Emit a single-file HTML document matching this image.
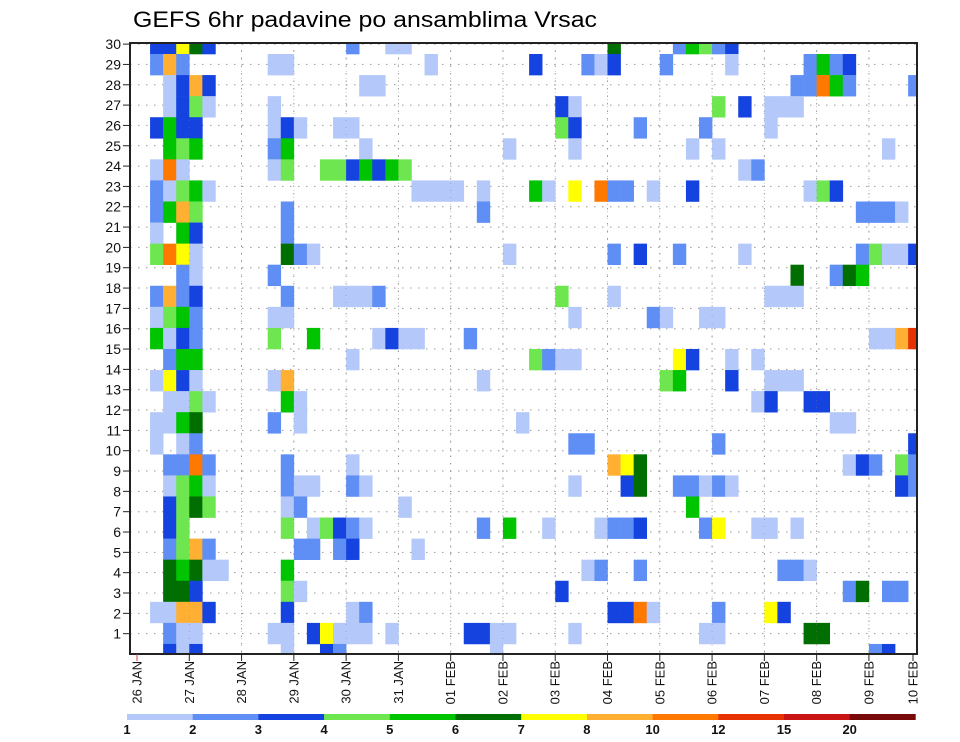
<!DOCTYPE html>
<html><head><meta charset="utf-8">
<style>
html,body{margin:0;padding:0;background:#fff;}
svg{display:block;font-family:"Liberation Sans",sans-serif;}
</style></head>
<body>
<svg id="chart" width="960" height="742" viewBox="0 0 960 742">
  <defs><clipPath id="plotclip"><rect x="130" y="43" width="787" height="611"/></clipPath></defs>
  <text x="133" y="27" font-size="22" textLength="464" lengthAdjust="spacingAndGlyphs" fill="#000">GEFS 6hr padavine po ansamblima Vrsac</text>
  <g id="grid"></g>
  <g id="cells" clip-path="url(#plotclip)"></g>
  <g id="grid2"></g>
  <rect x="130" y="43" width="787" height="611" fill="none" stroke="#222" stroke-width="2"/>
  <g id="yaxis"></g>
  <g id="xaxis"></g>
  <g id="legend"></g>
</svg>
<script>
// ---- data ----
const dayLabels = ["26 JAN","27 JAN","28 JAN","29 JAN","30 JAN","31 JAN","01 FEB","02 FEB","03 FEB","04 FEB","05 FEB","06 FEB","07 FEB","08 FEB","09 FEB","10 FEB"];
const memberTicks = [1,2,3,4,5,6,7,8,9,10,11,12,13,14,15,16,17,18,19,20,21,22,23,24,25,26,27,28,29,30];
const levelBounds = [1,2,3,4,5,6,7,8,10,12,15,20];
const levelColors = ["#b4c8fa","#5f8ef5","#1443e0","#6ee650","#00c400","#006e00","#ffff00","#ffb032","#ff7800","#e63200","#c81414","#780a0a"];
// representative precipitation (mm) for level codes 1..c
const levelValues = {"1":1.5,"2":2.5,"3":3.5,"4":4.5,"5":5.5,"6":6.5,"7":7.5,"8":9,"9":11,"a":13.5,"b":17,"c":25};
// bands top(30) -> bottom(1): "column:levelcode"
const rowCells = [
"1:3 2:3 3:7 4:6 5:3 16:2 19:1 20:1 36:6 41:2 42:5 43:4 44:2 45:3",
"1:2 2:8 3:2 10:1 11:1 22:1 30:3 34:2 35:1 36:3 40:2 45:1 51:2 52:5 53:2 54:3",
"2:1 3:3 4:8 5:3 17:1 18:1 50:2 51:2 52:9 53:5 54:2 59:2",
"2:1 3:3 4:4 5:1 10:1 32:3 33:1 44:4 46:3 48:1 49:1 50:1",
"1:3 2:5 3:3 4:3 10:1 11:3 12:1 15:1 16:1 32:4 33:3 38:2 43:2 48:1",
"2:5 3:4 4:5 10:2 11:5 17:1 28:1 33:1 42:1 44:1 57:1",
"1:1 2:9 3:1 10:1 11:4 14:4 15:4 16:3 17:5 18:3 19:5 20:4 46:1 47:2",
"1:2 2:1 3:4 4:5 5:1 21:1 22:1 23:1 24:1 26:1 30:5 31:1 33:7 35:9 36:2 37:2 39:1 42:3 51:1 52:4 53:3",
"1:2 2:5 3:8 4:4 11:2 26:2 55:2 56:2 57:2 58:1",
"1:1 3:5 4:3 11:2",
"1:4 2:9 3:7 4:1 11:6 12:2 13:1 28:1 36:2 38:3 41:2 46:1 55:2 56:4 57:1 58:1 59:3",
"3:2 4:1 10:2 50:6 53:2 54:6 55:5",
"1:2 2:8 3:2 4:3 11:2 15:1 16:1 17:1 18:2 32:4 36:1 48:1 49:1 50:1",
"1:1 2:4 3:5 4:2 10:1 11:1 33:1 39:2 40:1 43:1 44:1",
"1:5 2:1 3:3 4:2 10:4 13:5 18:1 19:3 20:1 21:1 25:2 56:1 57:1 58:8 59:a",
"2:2 3:5 4:5 16:1 30:4 31:2 32:1 33:1 41:7 42:3 45:1 47:1",
"1:1 2:7 3:3 4:1 10:1 11:8 26:1 40:4 41:5 45:3 48:1 49:1 50:1",
"2:1 3:1 4:4 5:1 11:5 12:1 47:1 48:3 51:3 52:3",
"1:1 2:1 3:5 4:6 10:2 12:1 29:1 53:1 54:1",
"1:1 3:1 4:2 33:2 34:2 44:2 59:3",
"2:2 3:2 4:9 5:2 11:2 16:1 36:8 37:7 38:6 54:1 55:3 56:2 58:4 59:2",
"2:1 3:4 4:5 5:1 11:2 12:1 13:1 16:2 17:1 33:1 37:3 38:6 41:2 42:2 43:1 44:2 45:1 58:3 59:2",
"2:3 3:4 4:6 5:4 11:1 12:2 20:1 42:5",
"2:3 3:4 11:4 13:1 14:4 15:3 16:2 17:1 26:2 28:5 31:1 35:1 36:2 37:2 38:3 43:2 44:7 47:1 48:1 50:1",
"2:2 3:4 4:8 5:2 12:2 13:2 15:2 16:3 21:1",
"2:6 3:5 4:6 5:1 6:1 11:5 34:1 35:2 38:2 49:2 50:2 51:1",
"2:6 3:6 4:3 11:4 12:1 32:3 54:2 55:6 57:2 58:2",
"1:1 2:1 3:8 4:8 5:3 11:3 16:1 17:2 36:3 37:3 38:9 39:1 44:2 48:7 49:3",
"2:2 3:1 4:1 10:1 11:1 13:3 14:7 15:1 16:1 17:1 19:1 25:3 26:3 27:1 28:1 33:1 43:1 44:1 51:6 52:6",
"2:3 3:1 4:3 11:1 14:3 15:2 27:1 56:2 57:3"
];

// ---- scales ----
const NS="http://www.w3.org/2000/svg";
const X0=137, DAY=52.28, STEP=DAY/4;
function xDay(d){return X0+d*DAY;}
function xCell(k){return X0+k*STEP;}
const CELL_H=21.07;
function yCell(j){return 54+(j-1)*CELL_H;}
function yTick(m){return 654-m*20.33;}
function colorScale(v){let idx=-1;for(let i=0;i<levelBounds.length;i++){if(v>=levelBounds[i])idx=i;}return idx<0?null:levelColors[idx];}
function mk(tag,attrs,parent){const e=document.createElementNS(NS,tag);for(const a in attrs)e.setAttribute(a,attrs[a]);parent.appendChild(e);return e;}

// grid
const grid=document.getElementById('grid');
for(const m of memberTicks){
  const l=mk('line',{x1:130,x2:917,y1:yTick(m),y2:yTick(m),stroke:'#999','stroke-width':1,'stroke-dasharray':'1.5,6.5'},grid);
  
  
}
for(let d=1;d<dayLabels.length-1;d++){
  const l=mk('line',{x1:xDay(d),x2:xDay(d),y1:43,y2:654,stroke:'#999','stroke-width':1,'stroke-dasharray':'1.5,6'},grid);
  
  
}

// cells
const cells=document.getElementById('cells');
rowCells.forEach((row,j)=>{
  row.split(' ').forEach(tok=>{
    if(!tok)return;
    const [ks,code]=tok.split(':');
    const k=parseInt(ks,10);
    const v=levelValues[code];
    const c=colorScale(v);
    if(!c)return;
    const r=mk('rect',{x:xCell(k),y:yCell(j),width:STEP+0.3,height:CELL_H+0.3,fill:c},cells);
    
    
  });
});

// faint grid dots over cells
const grid2=document.getElementById('grid2');
for(let d=1;d<dayLabels.length-1;d++){
  const l=mk('line',{x1:xDay(d),x2:xDay(d),y1:43,y2:654,stroke:'#777','stroke-width':0.8,'stroke-dasharray':'1,6','opacity':0.5},grid2);
  
  
}

// y axis
const ya=document.getElementById('yaxis');
for(const m of memberTicks){
  const y=yTick(m);
  const t=mk('line',{x1:123,x2:131,y1:y,y2:y,stroke:'#222','stroke-width':1},ya);
  
  
  const tx=mk('text',{x:121,y:y+5,'font-size':14,'text-anchor':'end',fill:'#111'},ya);
  tx.textContent=m;
  
  
}

// x axis
const xa=document.getElementById('xaxis');
dayLabels.forEach((lab,d)=>{
  let x=xDay(d); if(d===dayLabels.length-1) x=913;
  const t=mk('line',{x1:x,x2:x,y1:654,y2:661,stroke:d===0?'#c44':'#222','stroke-width':1},xa);
  
  
  const tx=mk('text',{x:0,y:0,'font-size':13,'text-anchor':'end',fill:'#111',transform:`translate(${x+4.5},661) rotate(-90)`},xa);
  tx.textContent=lab;
  
  
});

// legend
const lg=document.getElementById('legend');
const LX=127, LW=65.7;
levelColors.forEach((c,i)=>{
  const r=mk('rect',{x:LX+i*LW,y:714,width:LW+0.3,height:6,fill:c},lg);
  
  
});
levelBounds.forEach((b,i)=>{
  const t=mk('text',{x:LX+i*LW,y:734,'font-size':13,'font-weight':'bold','text-anchor':'middle',fill:'#111'},lg);
  t.textContent=b;
  
  
});
</script>
</body></html>
